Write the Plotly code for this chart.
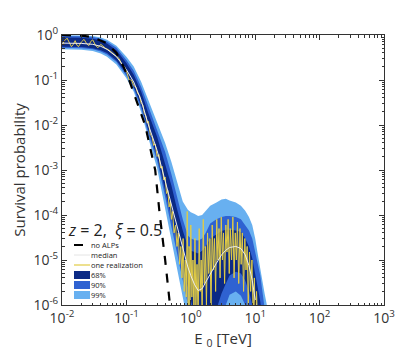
import plotly.graph_objects as go

# energy grid for the bands [TeV]
E = [0.01, 0.015, 0.02, 0.03, 0.04, 0.05, 0.07, 0.1, 0.13, 0.17, 0.22, 0.3, 0.4, 0.5,
     0.6, 0.75, 0.9, 1.0, 1.15, 1.3, 1.5, 1.7, 2.0, 2.5, 3.0, 3.5, 4.0, 5.0, 6.0, 7.0,
     8.0, 9.0, 10, 11, 12, 13, 14, 15, 16, 18]

median = [0.66, 0.66, 0.65, 0.62, 0.56, 0.48, 0.33, 0.17, 0.09, 0.035, 0.01, 2.7e-3,
          5.6e-4, 1.6e-4, 6e-5, 1.8e-5, 7e-6, 4.5e-6, 2.8e-6, 2.1e-6, 2.3e-6, 3.2e-6,
          5e-6, 8.5e-6, 1.3e-5, 1.65e-5, 1.9e-5, 2.0e-5, 1.8e-5, 1.3e-5, 7.5e-6, 3.5e-6,
          1.3e-6, 5e-7, 2e-7, 1e-8, 1e-8, 1e-8, 1e-8, 1e-8]

up99 = [0.99, 0.99, 0.98, 0.95, 0.88, 0.78, 0.58, 0.33, 0.2, 0.09, 0.035, 0.012, 4e-3,
        1.5e-3, 6e-4, 2e-4, 1.3e-4, 1.15e-4, 1.05e-4, 9.5e-5, 1e-4, 1.2e-4, 1.6e-4,
        1.9e-4, 2.2e-4, 2.3e-4, 2.1e-4, 1.9e-4, 1.6e-4, 1.25e-4, 9e-5, 6e-5, 3e-5,
        1.3e-5, 6e-6, 3e-6, 1.8e-6, 1.1e-6, 6e-7, 1e-7]
up90 = [0.95, 0.95, 0.94, 0.9, 0.83, 0.72, 0.52, 0.28, 0.16, 0.07, 0.025, 8e-3, 2.5e-3,
        8e-4, 2.8e-4, 8e-5, 3.5e-5, 3e-5, 2.8e-5, 2.7e-5, 3e-5, 4e-5, 6.5e-5, 8e-5,
        9e-5, 9.5e-5, 9.5e-5, 9e-5, 8e-5, 6e-5, 4.5e-5, 3e-5, 1.6e-5, 8e-6, 4.5e-6,
        2e-6, 1.1e-6, 5e-7, 2e-7, 1e-8]
up68 = [0.88, 0.88, 0.87, 0.83, 0.76, 0.65, 0.46, 0.24, 0.13, 0.055, 0.018, 5.5e-3,
        1.4e-3, 4.5e-4, 1.5e-4, 4.5e-5, 2e-5, 1.6e-5, 1.5e-5, 1.4e-5, 1.6e-5, 2e-5,
        3e-5, 3.8e-5, 4.4e-5, 4.7e-5, 4.7e-5, 4.5e-5, 4.2e-5, 3e-5, 2e-5, 1.1e-5,
        5e-6, 2.5e-6, 1.2e-6, 5e-7, 2e-7, 1e-7, 1e-8, 1e-8]
lo68 = [0.55, 0.55, 0.54, 0.51, 0.46, 0.4, 0.27, 0.14, 0.072, 0.027, 7.5e-3, 2e-3,
        3.5e-4, 9e-5, 2.7e-5, 7e-6, 2.5e-6, 1.3e-6, 6e-7, 4e-7, 3e-7, 3e-7, 4e-7,
        8e-7, 1.8e-6, 3e-6, 4.5e-6, 5.5e-6, 5e-6, 3.5e-6, 2e-6, 1e-6, 4e-7, 1e-7,
        1e-8, 1e-8, 1e-8, 1e-8, 1e-8, 1e-8]
lo90 = [0.52, 0.52, 0.51, 0.48, 0.43, 0.37, 0.25, 0.125, 0.063, 0.023, 6.2e-3, 1.6e-3,
        2.5e-4, 5.5e-5, 1.5e-5, 3.5e-6, 1e-6, 5e-7, 2e-7, 1e-7, 1e-7, 1e-7, 1e-7,
        2e-7, 5e-7, 1e-6, 1.7e-6, 2e-6, 1.6e-6, 1e-6, 5e-7, 2e-7, 1e-8, 1e-8, 1e-8,
        1e-8, 1e-8, 1e-8, 1e-8, 1e-8]
lo99 = [0.48, 0.48, 0.47, 0.44, 0.39, 0.33, 0.22, 0.11, 0.055, 0.019, 5e-3, 1.1e-3,
        1.6e-4, 3e-5, 7e-6, 1.5e-6, 4e-7, 1e-8, 1e-8, 1e-8, 1e-8, 1e-8, 1e-8, 1e-8,
        1e-8, 1e-8, 1e-8, 1e-8, 1e-8, 1e-8, 1e-8, 1e-8, 1e-8, 1e-8, 1e-8, 1e-8, 1e-8,
        1e-8, 1e-8, 1e-8]

# no-ALP (pure EBL absorption) curve
E_noalp = [0.01, 0.02, 0.03, 0.05, 0.07, 0.09, 0.11, 0.15, 0.195, 0.28, 0.33, 0.40,
           0.48, 0.52]
P_noalp = [1.0, 0.97, 0.9, 0.65, 0.4, 0.2, 0.1, 0.03, 0.01, 1e-3, 1e-4, 1e-5, 1e-6,
           3e-7]

# one realization of the magnetic field
E_real = [0.010, 0.011, 0.012, 0.013, 0.014, 0.015, 0.016, 0.017, 0.018, 0.02, 0.022,
          0.024, 0.026, 0.028, 0.03, 0.033, 0.036, 0.04, 0.044, 0.048, 0.053, 0.058,
          0.064, 0.07, 0.077, 0.085, 0.093, 0.1, 0.11, 0.12, 0.13, 0.14, 0.15, 0.16,
          0.17, 0.18, 0.19, 0.2, 0.21, 0.22, 0.235, 0.25, 0.265, 0.28, 0.3, 0.32,
          0.34, 0.36, 0.38, 0.4, 0.42, 0.44, 0.46, 0.48, 0.5, 0.52, 0.55, 0.58, 0.61,
          0.64, 0.67, 0.7, 0.73, 0.76, 0.79, 0.82, 0.85, 0.88, 0.91, 0.94, 0.97, 1.0,
          1.04, 1.08, 1.12, 1.16, 1.2, 1.25, 1.3, 1.35, 1.4, 1.45, 1.5, 1.56, 1.62,
          1.68, 1.75, 1.82, 1.9, 1.98, 2.06, 2.15, 2.24, 2.33, 2.43, 2.53, 2.63, 2.74,
          2.85, 2.97, 3.1, 3.22, 3.35, 3.5, 3.65, 3.8, 3.95, 4.1, 4.3, 4.5, 4.7, 4.9,
          5.1, 5.3, 5.55, 5.8, 6.05, 6.3, 6.6, 6.9, 7.2, 7.5, 7.8, 8.15, 8.5, 8.9,
          9.3, 9.7, 10.1, 10.5, 11, 11.5, 12]
P_real = [0.6, 0.75, 0.85, 0.7, 0.55, 0.62, 0.75, 0.6, 0.55, 0.7, 0.8, 0.65, 0.58,
          0.72, 0.78, 0.6, 0.52, 0.62, 0.55, 0.5, 0.47, 0.42, 0.38, 0.33, 0.3, 0.22,
          0.2, 0.16, 0.1, 0.1, 0.075, 0.07, 0.05, 0.045, 0.03, 0.028, 0.018, 0.016,
          0.011, 0.012, 6e-3, 5.5e-3, 3.5e-3, 3.8e-3, 2e-3, 2.2e-3, 1.1e-3, 1.2e-3,
          6e-4, 7e-4, 3e-4, 3.5e-4, 1.5e-4, 2e-4, 8e-5, 1.2e-4, 4e-5, 6e-5, 2e-5, 4e-5,
          8e-6, 2e-5, 4e-6, 3e-5, 2e-6, 1e-5, 1.5e-6, 1.2e-4, 1e-6, 2e-5, 8e-7, 6e-5,
          1.5e-6, 1e-5, 5e-7, 3e-5, 1e-6, 8e-6, 4e-7, 5e-5, 2e-6, 1e-5, 6e-7, 8e-5,
          3e-6, 2e-5, 1e-6, 4e-5, 5e-6, 3e-5, 8e-7, 6e-5, 6e-6, 3e-5, 2e-6, 8e-5,
          1e-5, 5e-5, 4e-6, 9e-5, 1e-5, 4e-5, 3e-6, 6e-5, 1.5e-5, 8e-5, 5e-6, 5e-5,
          1e-5, 9e-5, 4e-6, 4e-5, 1e-5, 7e-5, 3e-6, 5e-5, 8e-6, 4e-5, 2e-6, 3e-5,
          6e-6, 2e-5, 8e-7, 1.5e-5, 2e-6, 1e-5, 5e-7, 4e-6, 3e-7, 2e-6, 2e-7, 5e-7,
          5e-8]

x_ticks = [1e-2, 1e-1, 1, 10, 100, 1000]
x_ticktext = ["10<sup>-2</sup>", "10<sup>-1</sup>", "10<sup>0</sup>", "10<sup>1</sup>",
              "10<sup>2</sup>", "10<sup>3</sup>"]
y_ticks = [1e-6, 1e-5, 1e-4, 1e-3, 1e-2, 1e-1, 1]
y_ticktext = ["10<sup>-6</sup>", "10<sup>-5</sup>", "10<sup>-4</sup>", "10<sup>-3</sup>",
              "10<sup>-2</sup>", "10<sup>-1</sup>", "10<sup>0</sup>"]

C68, C90, C99 = "#0b2a85", "#2f62d1", "#68b0f0"
FONT = "Open Sans"

fig = go.Figure()
for lo, hi, col in [(lo99, up99, C99), (lo90, up90, C90), (lo68, up68, C68)]:
    fig.add_trace(go.Scatter(x=E + E[::-1], y=hi + lo[::-1], fill="toself",
                             fillcolor=col, line=dict(width=0), mode="lines",
                             hoverinfo="skip"))
fig.add_trace(go.Scatter(x=E_real, y=P_real, mode="lines",
                         line=dict(color="#e2cc45", width=1)))
fig.add_trace(go.Scatter(x=E, y=median, mode="lines",
                         line=dict(color="#eeeeee", width=1)))
fig.add_trace(go.Scatter(x=E_noalp, y=P_noalp, mode="lines",
                         line=dict(color="black", width=2.2, dash="dash")))

# hand-drawn legend in the lower-left corner
def px(x):
    return (x - 54) / 322


def py(y):
    return (297 - y) / 270


shapes = []
anns = []
rows = [("no ALPs", 237, "line", dict(color="black", width=2, dash="dash")),
        ("median", 247, "line", dict(color="#e4e4e4", width=1)),
        ("one realization", 257, "line", dict(color="#e2cc45", width=1.2)),
        ("68%", 267, "rect", C68), ("90%", 277, "rect", C90), ("99%", 287, "rect", C99)]
for label, y, kind, sty in rows:
    if kind == "line":
        shapes.append(dict(type="line", xref="paper", yref="paper", x0=px(66), x1=px(82),
                           y0=py(y), y1=py(y), line=sty))
    else:
        shapes.append(dict(type="rect", xref="paper", yref="paper", x0=px(66), x1=px(82),
                           y0=py(y + 4), y1=py(y - 4), fillcolor=sty, line=dict(width=0)))
    anns.append(dict(text=label, xref="paper", yref="paper", x=px(81), y=py(y),
                     xanchor="left", yanchor="middle", showarrow=False,
                     font=dict(size=7.5, color="#222", family=FONT)))
anns.append(dict(text="<i>z</i> = 2,  <i>ξ</i> = 0.5", xref="paper", yref="paper",
                 x=px(58), y=py(222), xanchor="left", yanchor="middle", showarrow=False,
                 font=dict(size=16, color="#222", family=FONT)))

axis = dict(type="log", showgrid=False, automargin=False,
            zeroline=False, ticks="inside", ticklen=5, mirror="allticks",
            showline=True, linecolor="#333", linewidth=1, tickcolor="#333",
            tickfont=dict(size=14, color="#333", family=FONT),
            minor=dict(ticks="inside", ticklen=2.5, tickcolor="#333", dtick="D1",
                       showgrid=False))

fig.update_layout(
    width=415, height=354, showlegend=False,
    paper_bgcolor="white", plot_bgcolor="white",
    margin=dict(l=54, r=39, t=27, b=57),
    xaxis=dict(axis, range=[-2, 3], tickvals=x_ticks, ticktext=x_ticktext,
               title=dict(text="E <sub>0</sub> [TeV]", standoff=7,
                          font=dict(size=15, color="#333", family=FONT))),
    yaxis=dict(axis, range=[-6, 0], tickvals=y_ticks, ticktext=y_ticktext,
               title=dict(text="Survival probability", standoff=4,
                          font=dict(size=15, color="#333", family=FONT))),
    shapes=shapes, annotations=anns)

fig.write_html("out.html")
